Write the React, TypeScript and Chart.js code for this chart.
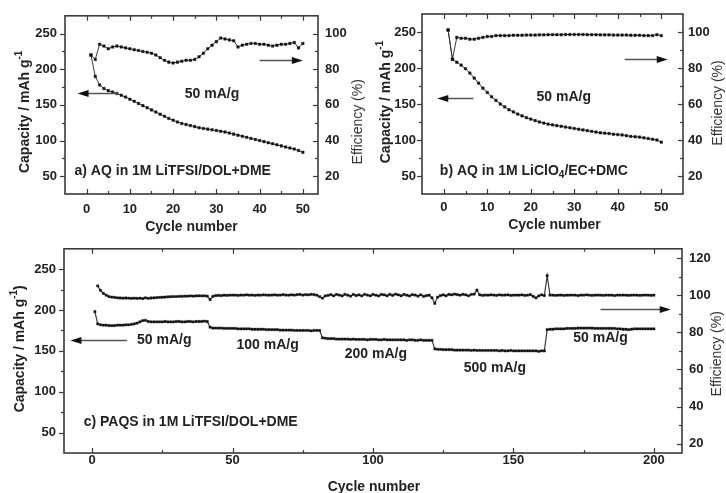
import React, { useEffect, useRef } from 'react';
import { Chart, registerables } from 'chart.js';
Chart.register(...registerables);

const FONT = '"Liberation Sans", Arial, Helvetica, sans-serif';

// ---------- Panel a: AQ in 1M LiTFSI/DOL+DME (cycle 1..50) ----------
const CAP_A = [
  220, 190, 178, 173, 170, 168, 166, 163.5, 161, 158,
  155, 152, 149, 146, 143, 140, 137, 134, 131, 128.5,
  126, 124, 122.5, 121, 119.5, 118, 117, 116, 115, 114,
  113, 112, 110.5, 109, 107.5, 106, 104.5, 103, 101.5, 100,
  98.5, 97, 95.5, 94, 92.5, 91, 89.5, 88, 86, 83.5,
];
const EFF_A = [
  88, 85.5, 94, 93, 91.5, 92.5, 93, 92.5, 92, 91.5,
  91, 90.5, 90, 89.5, 89, 88, 86.5, 85, 84, 83.5,
  84, 84.5, 85, 85, 85.5, 87, 89, 91.5, 93.5, 95.5,
  97.5, 97, 96.5, 96, 92.5, 93.5, 94, 94.5, 94.5, 94,
  94, 93.5, 93, 93.5, 94, 94, 94.5, 95, 92, 94.5,
];

// ---------- Panel b: AQ in 1M LiClO4/EC+DMC (cycle 1..50) ----------
const CAP_B = [
  253, 212, 208, 204, 199, 193, 186, 179, 172, 166,
  160, 155, 150, 146, 142, 139, 136, 133.5, 131, 129,
  127, 125, 123.5, 122, 121, 120, 119, 118, 117, 116,
  115, 114, 113, 112, 111, 110, 109.5, 109, 108, 107.5,
  107, 106, 105, 104.5, 104, 103, 102, 101, 100, 97,
];
const EFF_B = [
  101, 85, 97, 96.5, 96.5, 96, 96, 96.5, 97, 97.5,
  97.5, 98, 98, 98, 98, 98.2, 98.2, 98.2, 98.3, 98.3,
  98.3, 98.4, 98.4, 98.5, 98.5, 98.5, 98.5, 98.6, 98.6, 98.6,
  98.6, 98.6, 98.5, 98.5, 98.5, 98.4, 98.4, 98.4, 98.3, 98.3,
  98.3, 98.3, 98.2, 98.2, 98.2, 98, 98, 98, 98.5, 98,
];

// ---------- Panel c: PAQS in 1M LiTFSI/DOL+DME (cycle 1..200) ----------
const CAP_C = [
  198, 183, 182, 181.5, 181.5, 181, 181, 181, 181.5, 181.5,
  181.5, 182, 182, 182.5, 183, 184, 185.5, 187, 187.5, 186,
  185.5, 185.5, 185.5, 185.5, 185.5, 186, 185.5, 185.5, 185.5, 186,
  186, 185.5, 185.5, 186, 186, 185.5, 186, 186, 186, 186.5,
  186, 179, 178, 178, 178, 178, 177.5, 177.5, 177.5, 177.5,
  177.5, 177, 177, 177, 177, 177, 176.5, 176.5, 176.5, 176.5,
  176.5, 176, 176, 176, 176, 176, 175.5, 175.5, 175.5, 175.5,
  175.5, 175, 175, 175, 175, 175, 175, 174.5, 175, 175,
  175, 166, 165.5, 165, 165, 165, 164.5, 164.5, 164.5, 164.5,
  164.5, 164, 164.5, 164, 164, 164, 164, 163.5, 164, 164,
  164, 163.5, 163.5, 164, 163.5, 163.5, 163.5, 163.5, 163.5, 163.5,
  163.5, 163, 163.5, 163.5, 163, 163, 163.5, 163, 163, 163,
  163, 152.5, 152, 152, 151.5, 151.5, 151.5, 151.5, 151, 151,
  151, 151, 151, 151, 150.5, 151, 150.5, 150.5, 150.5, 150.5,
  150.5, 150.5, 150.5, 150.5, 150, 150.5, 150, 150, 150.5, 150,
  150, 150, 150, 150, 150, 150, 150, 150, 149.5, 150,
  150, 176, 176.5, 176.5, 177, 177, 177, 177, 177.5, 177.5,
  177.5, 177.5, 178, 178, 178, 178, 178, 178, 177.5, 177.5,
  177.5, 177.5, 177.5, 177.5, 177.5, 177.5, 177, 177, 176.5, 176.5,
  176, 176.5, 177, 177, 177, 177, 177, 177, 177, 177,
];
const EFF_C = [
  null, 105, 102.6, 101, 100, 99.3, 99, 98.8, 98.6, 98.5,
  98.4, 98.5, 98.4, 98.3, 98.4, 98.3, 98.4, 98.2, 98.6, 98.3,
  98.5, 98.6, 98.7, 98.8, 98.9, 99.0, 99.1, 99.2, 99.3, 99.3,
  99.4, 99.4, 99.5, 99.5, 99.6, 99.5, 99.6, 99.7, 99.6, 99.7,
  99.5, 97.6, 99.4, 99.8, 99.9, 99.8, 100.0, 99.9, 100.0, 100.1,
  100.0, 99.9, 100.1, 100.0, 100.2, 100.0, 100.1, 99.9, 100.1, 100.0,
  100.2, 100.1, 100.0, 100.1, 100.2, 100.0, 100.1, 100.3, 100.1, 100.0,
  100.2, 100.1, 100.3, 100.4, 100.1, 100.3, 100.2, 100.5, 100.3, 100.0,
  99.2, 98.4, 99.6, 99.9, 100.3, 99.7, 100.4, 100.1, 99.6, 100.5,
  100.0, 99.5, 100.4, 99.8, 100.2, 99.6, 100.5, 100.1, 99.7, 100.4,
  100.0, 99.6, 100.4, 100.2, 99.7, 100.5, 99.9, 100.6, 100.2, 99.7,
  100.4, 100.0, 99.6, 100.3, 100.1, 99.5, 100.2, 99.4, 99.8, 100.0,
  98.6, 95.6, 99.0, 99.8, 100.2, 99.7, 100.4, 100.2, 100.6, 100.3,
  100.0, 100.5, 100.2, 99.7, 100.4, 100.6, 102.8, 100.2, 99.9, 100.1,
  100.0, 100.2, 100.1, 99.9, 100.2, 100.0, 100.1, 100.2, 99.9, 100.0,
  100.1, 100.0, 100.2, 99.9, 100.0, 100.3, 99.4, 98.6, 99.6, 100.2,
  99.8, 110.5, 100.1, 100.0, 99.9, 100.0, 100.1, 99.9, 100.0, 100.0,
  100.1, 100.0, 99.8, 100.1, 100.0, 100.2, 100.0, 99.9, 100.0, 100.1,
  100.0, 99.9, 100.1, 100.0, 100.0, 99.8, 100.1, 100.0, 100.1, 100.0,
  99.9, 100.0, 100.1, 100.0, 99.9, 100.0, 100.1, 100.0, 99.9, 100.0,
];

// ---------- Axis tick values ----------
const X_TICKS_AB = [0, 10, 20, 30, 40, 50];
const X_MINOR_AB = [5, 15, 25, 35, 45];
const X_TICKS_C = [0, 50, 100, 150, 200];
const X_MINOR_C = [25, 75, 125, 175];
const CAP_TICKS = [50, 100, 150, 200, 250];
const CAP_MINOR = [75, 125, 175, 225];
const EFF_TICKS_AB = [20, 40, 60, 80, 100];
const EFF_MINOR_AB = [30, 50, 70, 90];
const EFF_TICKS_C = [20, 40, 60, 80, 100, 120];
const EFF_MINOR_C = [30, 50, 70, 90, 110];

type Part = { t: string; s?: 'sup' | 'sub' };

function partFont(p: Part, size: number, weight: string) {
  const sz = p.s ? Math.round(size * 0.68) : size;
  return `${weight} ${sz}px ${FONT}`;
}

function drawParts(ctx: CanvasRenderingContext2D, parts: Part[], x: number, y: number, size: number, weight: string, align: 'left' | 'center') {
  ctx.textAlign = 'left';
  ctx.textBaseline = 'middle';
  let w = 0;
  for (const p of parts) {
    ctx.font = partFont(p, size, weight);
    w += ctx.measureText(p.t).width;
  }
  let cx = align === 'center' ? x - w / 2 : x;
  for (const p of parts) {
    ctx.font = partFont(p, size, weight);
    const dy = p.s === 'sup' ? -size * 0.4 : p.s === 'sub' ? size * 0.32 : 0;
    ctx.fillText(p.t, cx, y + dy);
    cx += ctx.measureText(p.t).width;
  }
}

const panelPlugin = {
  id: 'panel',
  afterDraw(chart: any, _args: any, o: any) {
    const ctx: CanvasRenderingContext2D = chart.ctx;
    const a = chart.chartArea;
    const sx = chart.scales.x, sy = chart.scales.y, sy2 = chart.scales.y2;
    ctx.save();
    ctx.strokeStyle = '#3a3a3a';
    ctx.lineWidth = 1.2;
    const seg = (x1: number, y1: number, x2: number, y2: number) => {
      ctx.beginPath(); ctx.moveTo(x1, y1); ctx.lineTo(x2, y2); ctx.stroke();
    };
    o.xMajor.forEach((v: number) => { const p = Math.round(sx.getPixelForValue(v)) + 0.5; seg(p, a.bottom, p, a.bottom - 5); seg(p, a.top, p, a.top + 5); });
    o.xMinor.forEach((v: number) => { const p = Math.round(sx.getPixelForValue(v)) + 0.5; seg(p, a.bottom, p, a.bottom - 3); seg(p, a.top, p, a.top + 3); });
    o.yMajor.forEach((v: number) => { const p = Math.round(sy.getPixelForValue(v)) + 0.5; seg(a.left - 5, p, a.left, p); });
    o.yMinor.forEach((v: number) => { const p = Math.round(sy.getPixelForValue(v)) + 0.5; seg(a.left - 3, p, a.left, p); });
    o.y2Major.forEach((v: number) => { const p = Math.round(sy2.getPixelForValue(v)) + 0.5; seg(a.right - 5, p, a.right, p); });
    o.y2Minor.forEach((v: number) => { const p = Math.round(sy2.getPixelForValue(v)) + 0.5; seg(a.right - 3, p, a.right, p); });
    // frame
    ctx.lineWidth = 1.6;
    ctx.strokeRect(a.left, a.top, a.right - a.left, a.bottom - a.top);

    ctx.fillStyle = '#222';
    // x title
    drawParts(ctx, [{ t: 'Cycle number' }], (a.left + a.right) / 2 + o.xTitleDx, a.bottom + o.xTitleDy, 14, 'bold', 'center');
    // left title (rotated)
    ctx.save();
    ctx.translate(a.left + o.lTitle.dx, a.top + o.lTitle.dy);
    ctx.rotate(-Math.PI / 2);
    drawParts(ctx, o.lTitle.parts, 0, 0, 14, 'bold', 'center');
    ctx.restore();
    // right title (rotated, bottom-to-top)
    ctx.save();
    ctx.translate(a.right + o.rTitle.dx, a.top + o.rTitle.dy);
    ctx.rotate(-Math.PI / 2);
    ctx.fillStyle = '#333';
    drawParts(ctx, [{ t: 'Efficiency (%)' }], 0, 0, 14, 'normal', 'center');
    ctx.restore();

    // in-plot labels (positioned in data coordinates)
    o.texts.forEach((t: any) => {
      drawParts(ctx, t.parts, sx.getPixelForValue(t.x), sy.getPixelForValue(t.y), t.size || 14, 'bold', t.align || 'center');
    });
    // arrows
    o.arrows.forEach((ar: any) => {
      const x1 = sx.getPixelForValue(ar.x1), x2 = sx.getPixelForValue(ar.x2), y = Math.round(sy.getPixelForValue(ar.y)) + 0.5;
      const dir = x2 > x1 ? 1 : -1;
      ctx.strokeStyle = '#555';
      ctx.lineWidth = 1.5;
      seg(x1, y, x2 - dir * 8, y);
      ctx.fillStyle = '#111';
      ctx.beginPath();
      ctx.moveTo(x2, y);
      ctx.lineTo(x2 - dir * 11, y - 3.5);
      ctx.lineTo(x2 - dir * 11, y + 3.5);
      ctx.closePath();
      ctx.fill();
    });
    ctx.restore();
  },
};

function buildConfig(s: any): any {
  const tickFont = { family: FONT, size: 13, weight: 'bold' as const };
  const series = (vals: (number | null)[], axis: string) => ({
    data: vals.map((v, i) => ({ x: i + 1, y: v })),
    yAxisID: axis,
    borderColor: '#3a3a3a',
    borderWidth: s.lineW,
    pointStyle: 'rect',
    pointRadius: s.pointR,
    pointBackgroundColor: '#111',
    pointBorderColor: '#111',
    pointBorderWidth: 0.4,
    spanGaps: true,
    tension: 0,
  });
  const setTicks = (vals: number[]) => (axis: any) => { axis.ticks = vals.map((v) => ({ value: v })); };
  return {
    type: 'line',
    data: { datasets: [series(s.cap, 'y'), series(s.eff, 'y2')] },
    options: {
      animation: false,
      responsive: false,
      maintainAspectRatio: false,
      layout: { padding: { top: s.padTop, left: 0, right: 0, bottom: 0 } },
      plugins: { legend: { display: false }, tooltip: { enabled: false }, panel: s.annot },
      scales: {
        x: {
          type: 'linear', min: s.xMin, max: s.xMax,
          grid: { display: false, drawTicks: false, tickLength: 0 },
          border: { display: false },
          ticks: { font: tickFont, color: '#222', padding: s.xPad, autoSkip: false, maxRotation: 0 },
          afterBuildTicks: setTicks(s.xTicks),
          afterFit: (axis: any) => { axis.height = s.xH; },
        },
        y: {
          type: 'linear', position: 'left', min: 25, max: 275,
          grid: { display: false, drawTicks: false, tickLength: 0 },
          border: { display: false },
          ticks: { font: tickFont, color: '#222', padding: s.yPad, autoSkip: false },
          afterBuildTicks: setTicks(CAP_TICKS),
          afterFit: (axis: any) => { axis.width = s.yW; },
        },
        y2: {
          type: 'linear', position: 'right', min: s.y2Min, max: s.y2Max,
          grid: { display: false, drawTicks: false, tickLength: 0 },
          border: { display: false },
          ticks: { font: tickFont, color: '#222', padding: s.y2Pad, autoSkip: false },
          afterBuildTicks: setTicks(s.y2Ticks),
          afterFit: (axis: any) => { axis.width = s.y2W; },
        },
      },
    },
    plugins: [panelPlugin],
  };
}

const CAP_TITLE: Part[] = [{ t: 'Capacity / mAh g' }, { t: '-1', s: 'sup' }];
const CAP_TITLE_C: Part[] = [{ t: 'Capacity / mAh g' }, { t: '-1', s: 'sup' }, { t: ')' }];

const SPEC_A = {
  cap: CAP_A, eff: EFF_A, xMin: -5, xMax: 53.5, xTicks: X_TICKS_AB,
  y2Min: 10, y2Max: 110, y2Ticks: EFF_TICKS_AB,
  padTop: 14, xH: 46, yW: 65, y2W: 48, xPad: 8, yPad: 8, y2Pad: 7,
  pointR: 1.8, lineW: 1,
  annot: {
    xMajor: X_TICKS_AB, xMinor: X_MINOR_AB, yMajor: CAP_TICKS, yMinor: CAP_MINOR,
    y2Major: EFF_TICKS_AB, y2Minor: EFF_MINOR_AB,
    xTitleDx: 0, xTitleDy: 33,
    lTitle: { dx: -40, dy: 96, parts: CAP_TITLE },
    rTitle: { dx: 40, dy: 106 },
    texts: [
      { x: 29, y: 165, parts: [{ t: '50 mA/g' }] },
      { x: -2.8, y: 57, align: 'left', parts: [{ t: 'a) AQ in 1M LiTFSI/DOL+DME' }] },
    ],
    arrows: [
      { x1: 7.4, x2: -2.1, y: 167 },
      { x1: 40, x2: 50, y: 213.5 },
    ],
  },
};

const SPEC_B = {
  cap: CAP_B, eff: EFF_B, xMin: -5, xMax: 55, xTicks: X_TICKS_AB,
  y2Min: 10, y2Max: 110, y2Ticks: EFF_TICKS_AB,
  padTop: 14, xH: 46, yW: 56, y2W: 43, xPad: 6, yPad: 6, y2Pad: 5,
  pointR: 1.8, lineW: 1,
  annot: {
    xMajor: X_TICKS_AB, xMinor: X_MINOR_AB, yMajor: CAP_TICKS, yMinor: CAP_MINOR,
    y2Major: EFF_TICKS_AB, y2Minor: EFF_MINOR_AB,
    xTitleDx: 2, xTitleDy: 31.5,
    lTitle: { dx: -36, dy: 88, parts: CAP_TITLE },
    rTitle: { dx: 35, dy: 89 },
    texts: [
      { x: 27.6, y: 160, parts: [{ t: '50 mA/g' }] },
      { x: -0.9, y: 57, align: 'left', parts: [{ t: 'b) AQ in 1M LiClO' }, { t: '4', s: 'sub' }, { t: '/EC+DMC' }] },
    ],
    arrows: [
      { x1: 6.8, x2: -1.5, y: 159 },
      { x1: 41.6, x2: 51.5, y: 212.5 },
    ],
  },
};

const SPEC_C = {
  cap: CAP_C, eff: EFF_C, xMin: -10, xMax: 210, xTicks: X_TICKS_C,
  y2Min: 15, y2Max: 125, y2Ticks: EFF_TICKS_C,
  padTop: 14, xH: 40, yW: 64, y2W: 44, xPad: 0, yPad: 8, y2Pad: 7,
  pointR: 1.6, lineW: 1.2,
  annot: {
    xMajor: X_TICKS_C, xMinor: X_MINOR_C, yMajor: CAP_TICKS, yMinor: CAP_MINOR,
    y2Major: EFF_TICKS_C, y2Minor: EFF_MINOR_C,
    xTitleDx: 1, xTitleDy: 34,
    lTitle: { dx: -44, dy: 100, parts: CAP_TITLE_C },
    rTitle: { dx: 35, dy: 105 },
    texts: [
      { x: 25.7, y: 163.5, parts: [{ t: '50 mA/g' }] },
      { x: 62.5, y: 157, parts: [{ t: '100 mA/g' }] },
      { x: 101, y: 145.5, parts: [{ t: '200 mA/g' }] },
      { x: 143.4, y: 129.5, parts: [{ t: '500 mA/g' }] },
      { x: 181, y: 165.5, parts: [{ t: '50 mA/g' }] },
      { x: -3, y: 63, align: 'left', parts: [{ t: 'c) PAQS in 1M LiTFSI/DOL+DME' }] },
    ],
    arrows: [
      { x1: 12.4, x2: -7.7, y: 163.5 },
      { x1: 181, x2: 206, y: 201 },
    ],
  },
};

function Panel({ spec, left, top, w, h }: { spec: any; left: number; top: number; w: number; h: number }) {
  const ref = useRef<HTMLCanvasElement>(null);
  useEffect(() => {
    const chart = new Chart(ref.current as HTMLCanvasElement, buildConfig(spec));
    return () => chart.destroy();
  }, []);
  return (
    <canvas
      ref={ref}
      width={w}
      height={h}
      style={{ position: 'absolute', left, top, width: w, height: h }}
    />
  );
}

export default function App() {
  return (
    <div style={{ position: 'absolute', left: 0, top: 0, width: 726, height: 493, background: '#fff', overflow: 'hidden' }}>
      <Panel spec={SPEC_A} left={0} top={0} w={366} h={240} />
      <Panel spec={SPEC_B} left={366} top={0} w={360} h={240} />
      <Panel spec={SPEC_C} left={0} top={233} w={726} h={260} />
    </div>
  );
}
